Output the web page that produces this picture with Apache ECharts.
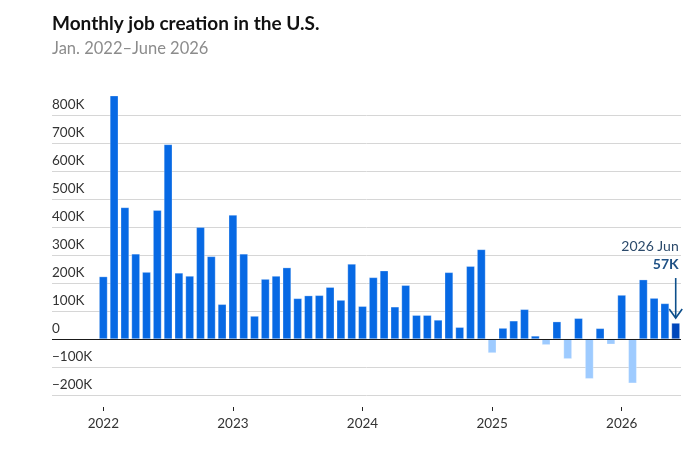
<!DOCTYPE html>
<html>
<head>
<meta charset="utf-8">
<script src="https://cdn.jsdelivr.net/npm/echarts@6/dist/echarts.min.js"></script>
<style>
html,body{margin:0;padding:0;background:#fff;}
#chart{width:696px;height:454px;}
</style>
</head>
<body>
<div id="chart"></div>
<script>
// Months Jan 2022 .. Jun 2026
const months = [];
const monthNames = ['Jan','Feb','Mar','Apr','May','Jun','Jul','Aug','Sep','Oct','Nov','Dec'];
for (let y = 2022; y <= 2026; y++) {
  for (let m = 0; m < 12; m++) {
    if (y === 2026 && m > 5) break;
    months.push(y + ' ' + monthNames[m]);
  }
}
// Monthly job creation
const jobs = [
  223000, 869000, 470000, 304000, 239000, 460000, 695000, 236000, 225000, 399000, 295000, 124000,
  443000, 304000, 82000, 214000, 225000, 255000, 145000, 155000, 156000, 185000, 139000, 268000,
  117000, 220000, 244000, 115000, 192000, 85000, 85000, 68000, 238000, 42000, 260000, 320000,
  -50000, 39000, 65000, 106000, 11000, -21000, 62000, -71000, 74000, -142000, 38000, -19000,
  157000, -158000, 212000, 146000, 127000, 57000
];
const yearTickIndex = [0, 12, 24, 36, 48];
const yearLabels = ['2022', '2023', '2024', '2025', '2026'];
const titleText = 'Monthly job creation in the U.S.';
const subtitleText = 'Jan. 2022\u2013June 2026';
const annotationLabel = '2026 Jun';
const annotationValue = '57K';

const COL_POS = '#0769e4';
const COL_NEG = '#9ecbff';
const COL_LAST = '#0047bb';
const FONT = 'Lato, "Open Sans", sans-serif';

const lastIdx = jobs.length - 1;
const barData = jobs.map((v, i) => ({
  value: [i, v],
  itemStyle: { color: i === lastIdx ? COL_LAST : (v < 0 ? COL_NEG : COL_POS) }
}));

function fmtY(v) {
  if (v === 0) return '0';
  return (v < 0 ? '\u2212' : '') + Math.abs(v / 1000) + 'K';
}

const chart = echarts.init(document.getElementById('chart'), null, { renderer: 'canvas' });
const option = {
  animation: false,
  backgroundColor: '#fff',
  title: {
    text: titleText,
    subtext: subtitleText,
    left: 52,
    top: 13,
    itemGap: 4,
    padding: 0,
    textStyle: { fontFamily: FONT, fontSize: 19, fontWeight: 'bold', color: '#111', lineHeight: 22 },
    subtextStyle: { fontFamily: FONT, fontSize: 16.5, color: '#8c8c8c', lineHeight: 20 }
  },
  grid: { left: 52, right: 15, top: 115, bottom: 59, outerBoundsMode: 'none', containLabel: false },
  xAxis: {
    type: 'value',
    min: -4.75,
    max: 53.49,
    offset: 12,
    axisLine: { show: false, onZero: false },
    splitLine: { show: false },
    axisTick: { show: true, length: 4, lineStyle: { color: '#222', width: 1 }, customValues: yearTickIndex },
    axisLabel: {
      customValues: yearTickIndex,
      margin: 10,
      color: '#333',
      fontFamily: FONT,
      fontSize: 13.5,
      formatter: function (v) { return yearLabels[yearTickIndex.indexOf(Math.round(v))] || ''; }
    }
  },
  yAxis: {
    type: 'value',
    min: -200000,
    max: 800000,
    interval: 100000,
    axisLine: { show: false },
    axisTick: { show: false },
    splitLine: { show: true, lineStyle: { color: '#d6d6d6', width: 1 } },
    axisLabel: {
      inside: true,
      margin: 0,
      verticalAlign: 'bottom',
      padding: [0, 0, 3, 0],
      color: '#333',
      fontFamily: FONT,
      fontSize: 13.5,
      formatter: fmtY
    }
  },
  series: [{
    type: 'bar',
    data: barData,
    barWidth: 8.4,
    clip: false,
    itemStyle: { borderColor: 'rgba(255,255,255,0.45)', borderWidth: 0.6 },
    markLine: {
      silent: true,
      symbol: ['none', 'none'],
      label: { show: false },
      lineStyle: { color: '#1a1a1a', width: 1.2, type: 'solid' },
      data: [{ yAxis: 0 }]
    }
  }]
};
chart.setOption(option);

// Annotation anchored to the last data point
const p = chart.convertToPixel({ seriesIndex: 0 }, [lastIdx, jobs[lastIdx]]);
const x = p[0], yTop = p[1];
const tipY = yTop - 5;
const arrowTopY = tipY - 40;
const rightX = x + 3;
chart.setOption({
  graphic: [
    { type: 'text', x: rightX, y: arrowTopY - 25, style: { text: annotationLabel, align: 'right', verticalAlign: 'bottom', fontFamily: FONT, fontSize: 14, fill: '#2b4a6b' } },
    { type: 'text', x: rightX, y: arrowTopY - 7, style: { text: annotationValue, align: 'right', verticalAlign: 'bottom', fontFamily: FONT, fontSize: 14, fontWeight: 'bold', fill: '#1f5185' } },
    { type: 'line', shape: { x1: x, y1: arrowTopY, x2: x, y2: tipY }, style: { stroke: '#0d4f8b', lineWidth: 1.6 } },
    { type: 'polyline', shape: { points: [[x - 6.5, tipY - 9], [x, tipY], [x + 6.5, tipY - 9]] }, style: { stroke: '#0d4f8b', lineWidth: 1.6, fill: null } }
  ]
});
</script>
</body>
</html>
